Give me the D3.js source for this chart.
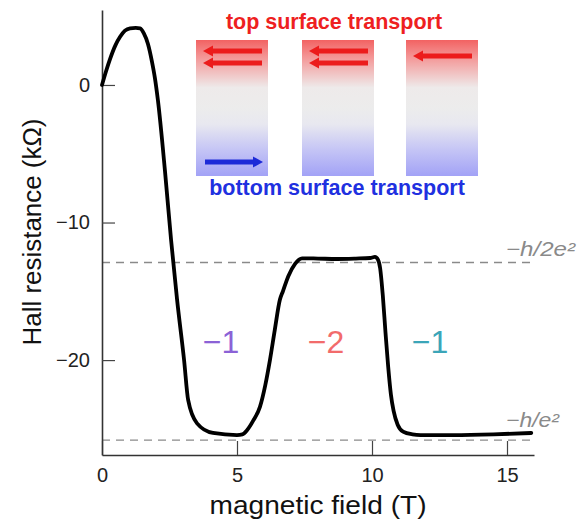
<!DOCTYPE html>
<html>
<head>
<meta charset="utf-8">
<script src="https://cdn.jsdelivr.net/npm/d3@7/dist/d3.min.js"></script>
<style>
  html, body { margin: 0; padding: 0; background: #fff; }
  svg { display: block; font-family: "Liberation Sans", Arial, Helvetica, sans-serif; }
</style>
</head>
<body>
<svg id="chart" width="585" height="523"></svg>
<script>
// ---- data ----
const fieldT = [0.0, 0.15, 0.30, 0.50, 0.67, 0.85, 1.04, 1.25, 1.41, 1.55, 1.70, 1.85, 1.96, 2.07,
  2.33, 2.56, 2.78, 3.04, 3.19, 3.52, 4.11, 5.0, 5.2, 5.37, 5.6, 5.85, 6.05, 6.22, 6.4, 6.59, 6.7,
  6.9, 7.15, 7.41, 8.0, 8.7, 9.4, 9.93, 10.11, 10.22, 10.3, 10.4, 10.5, 10.6, 10.7, 10.8, 10.95,
  11.15, 11.5, 11.8, 13.0, 14.5, 15.9];
const hallR = [0.0, 1.0, 1.9, 2.9, 3.5, 3.95, 4.12, 4.15, 4.12, 3.75, 3.0, 1.7, 0.5, -1.1,
  -6.2, -11.3, -15.6, -20.0, -22.9, -24.6, -25.3, -25.45, -25.4, -25.1, -24.4, -23.4, -21.8, -20.0, -17.8, -15.6, -15.0,
  -13.9, -13.0, -12.6, -12.62, -12.65, -12.62, -12.58, -12.5, -12.7, -13.3, -15.3, -18.0, -20.5, -22.5, -23.7, -24.7,
  -25.2, -25.4, -25.45, -25.45, -25.4, -25.3];
const xTicks = [0, 5, 10, 15];
const yTicks = [-20, -10, 0];
const quantumLevels = [-12.906, -25.813];           // -h/2e^2, -h/e^2 in kOhm
const quantumLabels = ["\u2212h/2e\u00B2", "\u2212h/e\u00B2"];
const regionLabels = ["\u22121", "\u22122", "\u22121"];
const regionColors = ["#8b62d6", "#f26b6b", "#3ba5b8"];
const topArrows = [2, 2, 1];      // arrows in top surface per panel
const bottomArrows = [1, 0, 0];   // arrows in bottom surface per panel

// ---- layout ----
const svg = d3.select("#chart");
const x = d3.scaleLinear().domain([0, 16]).range([102, 534]);
const y = d3.scaleLinear().domain([-26.9, 5.45]).range([455, 10]);

// dashed quantum levels
svg.selectAll("line.q").data(quantumLevels).join("line")
  .attr("class", "q")
  .attr("x1", x(0)).attr("x2", x(15.95))
  .attr("y1", d => y(d)).attr("y2", d => y(d))
  .attr("stroke", "#8a8a8a").attr("stroke-width", 1.3)
  .attr("stroke-dasharray", "8,6");

const qOff = [-7, -13];
const qLen = [69, 53];
svg.selectAll("text.q").data(quantumLabels).join("text")
  .attr("class", "q")
  .attr("x", 506)
  .attr("y", (d, i) => y(quantumLevels[i]) + qOff[i])
  .attr("font-size", 20).attr("font-style", "italic").attr("fill", "#8a8a8a")
  .attr("textLength", (d, i) => qLen[i]).attr("lengthAdjust", "spacingAndGlyphs")
  .text(d => d);

// axes
const xAxis = d3.axisBottom(x).tickValues(xTicks).tickSizeInner(-14).tickSizeOuter(0).tickPadding(13)
  .tickFormat(d3.format("d"));
const yAxis = d3.axisLeft(y).tickValues(yTicks).tickSizeInner(-13).tickSizeOuter(0).tickPadding(12)
  .tickFormat(d3.format("d"));

const gx = svg.append("g").attr("transform", `translate(0,${y.range()[0]})`).call(xAxis);
const gy = svg.append("g").attr("transform", `translate(${x.range()[0]},0)`).call(yAxis);
[gx, gy].forEach(g => {
  g.select(".domain").attr("stroke", "#333").attr("stroke-width", 1.6);
  g.selectAll(".tick line").attr("stroke", "#444").attr("stroke-width", 1.2);
  g.selectAll(".tick text").attr("font-size", 20).attr("fill", "#222")
    .attr("font-family", "Liberation Sans, Arial, sans-serif");
});

// curve
const pts = fieldT.map((t, i) => [t, hallR[i]]);
const line = d3.line().x(d => x(d[0])).y(d => y(d[1])).curve(d3.curveMonotoneX);
svg.append("path").datum(pts)
  .attr("d", line)
  .attr("fill", "none").attr("stroke", "#000").attr("stroke-width", 3.8)
  .attr("stroke-linejoin", "round").attr("stroke-linecap", "round");

// axis titles
svg.append("text").attr("x", 318).attr("y", 514).attr("text-anchor", "middle")
  .attr("font-size", 26).attr("fill", "#111")
  .attr("textLength", 217).attr("lengthAdjust", "spacingAndGlyphs")
  .text("magnetic field (T)");
svg.append("text").attr("transform", "translate(41,232) rotate(-90)").attr("text-anchor", "middle")
  .attr("font-size", 26).attr("fill", "#111")
  .attr("textLength", 227).attr("lengthAdjust", "spacingAndGlyphs")
  .text("Hall resistance (k\u03A9)");

// region labels
const regionX = [221, 326, 430];
svg.selectAll("text.reg").data(regionLabels).join("text")
  .attr("class", "reg")
  .attr("x", (d, i) => regionX[i]).attr("y", 353)
  .attr("text-anchor", "middle").attr("font-size", 32)
  .attr("fill", (d, i) => regionColors[i]).text(d => d);

// inset
const defs = svg.append("defs");
const grad = defs.append("linearGradient").attr("id", "surf").attr("x1", 0).attr("y1", 0).attr("x2", 0).attr("y2", 1);
[["0%", "#f26262"], ["12%", "#f49494"], ["35%", "#eeeaea"], ["50%", "#ececec"], ["62%", "#e8e8f0"], ["80%", "#c6c6f5"], ["100%", "#a2a2f6"]]
  .forEach(([o, c]) => grad.append("stop").attr("offset", o).attr("stop-color", c));

const panelLeft = [196, 302, 406];
const panelW = 72, panelTop = 40, panelH = 136;
const g = svg.append("g");
g.selectAll("rect.panel").data(panelLeft).join("rect")
  .attr("class", "panel")
  .attr("x", d => d).attr("y", panelTop).attr("width", panelW).attr("height", panelH)
  .attr("fill", "url(#surf)");

function arrow(x0, x1, yy, color) {
  // x0 = tip, x1 = tail
  const dir = x1 > x0 ? 1 : -1;
  const headL = 10, headH = 5.5, thick = 4.8;
  const base = x0 + dir * headL;
  g.append("line").attr("x1", base).attr("x2", x1).attr("y1", yy).attr("y2", yy)
    .attr("stroke", color).attr("stroke-width", thick);
  g.append("path").attr("d", `M${x0},${yy} L${base},${yy - headH} L${base},${yy + headH} Z`).attr("fill", color);
}
const topY = [[51, 63], [51, 63], [56]];
panelLeft.forEach((px, i) => {
  for (let k = 0; k < topArrows[i]; k++) {
    arrow(px + 7, px + 66, topY[i][k], "#ec1c1c");
  }
  for (let k = 0; k < bottomArrows[i]; k++) {
    arrow(px + 67, px + 9, 162, "#1c2ad8");
  }
});

svg.append("text").attr("x", 334).attr("y", 29).attr("text-anchor", "middle")
  .attr("font-size", 21.5).attr("font-weight", "bold").attr("fill", "#ee2020").text("top surface transport");
svg.append("text").attr("x", 337).attr("y", 195).attr("text-anchor", "middle")
  .attr("font-size", 21.5).attr("font-weight", "bold").attr("fill", "#2030e0").text("bottom surface transport");
</script>
</body>
</html>
